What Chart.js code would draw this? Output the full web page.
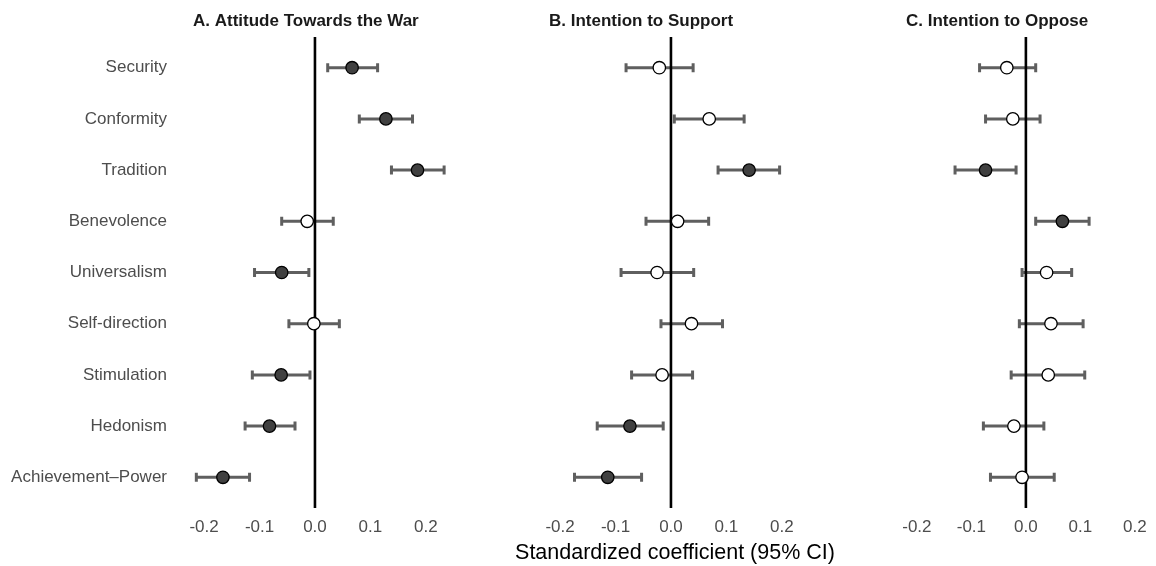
<!DOCTYPE html>
<html>
<head>
<meta charset="utf-8">
<script src="https://cdn.jsdelivr.net/npm/chart.js@4.4.1/dist/chart.umd.min.js"></script>
<style>
html,body{margin:0;padding:0;background:#fff;overflow:hidden;width:1156px;height:566px;position:relative;}
canvas{position:absolute;top:0;}
</style>
</head>
<body>
<canvas id="cA"></canvas>
<canvas id="cB"></canvas>
<canvas id="cC"></canvas>
<script>
// ---------- DATA ----------
const categories = ["Security","Conformity","Tradition","Benevolence","Universalism","Self-direction","Stimulation","Hedonism","Achievement\u2013Power"];
const tickValues = [-0.2,-0.1,0,0.1,0.2];
const tickLabels = ["-0.2","-0.1","0.0","0.1","0.2"];
const panelTitles = ["A. Attitude Towards the War","B. Intention to Support","C. Intention to Oppose"];
const axisTitle = "Standardized coefficient (95% CI)";

const attitudeEst  = [0.067, 0.128, 0.185, -0.014, -0.060, -0.002, -0.061, -0.082, -0.166];
const attitudeLow  = [0.023, 0.080, 0.138, -0.060, -0.109, -0.047, -0.113, -0.126, -0.214];
const attitudeHigh = [0.113, 0.176, 0.233, 0.033, -0.011, 0.044, -0.009, -0.036, -0.118];
const attitudeSig  = [1,1,1,0,1,0,1,1,1];

const supportEst  = [-0.021, 0.069, 0.141, 0.012, -0.025, 0.037, -0.016, -0.074, -0.114];
const supportLow  = [-0.081, 0.006, 0.085, -0.045, -0.090, -0.018, -0.071, -0.133, -0.174];
const supportHigh = [0.040, 0.132, 0.196, 0.068, 0.041, 0.093, 0.039, -0.014, -0.053];
const supportSig  = [0,0,1,0,0,0,0,1,1];

const opposeEst  = [-0.035, -0.024, -0.074, 0.067, 0.038, 0.046, 0.041, -0.022, -0.007];
const opposeLow  = [-0.085, -0.074, -0.130, 0.018, -0.007, -0.012, -0.027, -0.078, -0.065];
const opposeHigh = [0.018, 0.026, -0.018, 0.116, 0.084, 0.105, 0.108, 0.033, 0.052];
const opposeSig  = [0,0,1,1,0,0,0,0,0];

// ---------- STYLE / LAYOUT ----------
const FONT = "'Liberation Sans', Arial, Helvetica, sans-serif";
const PX_PER_UNIT = 555;
const X_MIN = -0.22;
const FILL_SIG = '#404040', FILL_NS = '#ffffff';

function makeErrorBars(low, high){
  return {
    id: 'errorBars',
    beforeDatasetsDraw(chart){
      const {ctx, chartArea} = chart;
      const x = chart.scales.x, y = chart.scales.y;
      ctx.save();
      ctx.strokeStyle = '#5f5f5f';
      ctx.lineWidth = 3;
      ctx.lineCap = 'butt';
      low.forEach((lo, i) => {
        const yy = y.getPixelForValue(i + 1);
        const x1 = x.getPixelForValue(lo), x2 = x.getPixelForValue(high[i]);
        ctx.beginPath();
        ctx.moveTo(x1, yy); ctx.lineTo(x2, yy);
        ctx.moveTo(x1, yy - 4.5); ctx.lineTo(x1, yy + 4.5);
        ctx.moveTo(x2, yy - 4.5); ctx.lineTo(x2, yy + 4.5);
        ctx.stroke();
      });
      const x0 = x.getPixelForValue(0);
      ctx.strokeStyle = '#000';
      ctx.lineWidth = 2.6;
      ctx.beginPath();
      ctx.moveTo(x0, chartArea.top); ctx.lineTo(x0, chartArea.bottom);
      ctx.stroke();
      ctx.restore();
    }
  };
}

// shared x-axis title, centred under the middle panel (drawn without width compression)
const xTitlePlugin = {
  id: 'xTitle',
  afterDraw(chart){
    const {ctx, chartArea} = chart;
    ctx.save();
    ctx.font = `21.5px ${FONT}`;
    ctx.fillStyle = '#000';
    ctx.textAlign = 'center';
    ctx.textBaseline = 'middle';
    ctx.fillText(axisTitle, (chartArea.left + chartArea.right) / 2 - 1.5, 553);
    ctx.restore();
  }
};

function makePanel(id, cfg){
  const cv = document.getElementById(id);
  const plotW = (cfg.xMax - X_MIN) * PX_PER_UNIT;
  const width = cfg.yAxisW + cfg.padL + plotW + cfg.padR;
  cv.width = Math.round(width);
  cv.height = 566;
  cv.style.left = cfg.left + 'px';
  const plugins = [makeErrorBars(cfg.low, cfg.high)];
  if (cfg.showXTitle) plugins.push(xTitlePlugin);
  return new Chart(cv, {
    type: 'scatter',
    data: {
      datasets: [{
        data: cfg.est.map((v, i) => ({x: v, y: i + 1})),
        backgroundColor: cfg.sig.map(s => s ? FILL_SIG : FILL_NS),
        borderColor: '#000',
        borderWidth: 1.3,
        pointRadius: 6.2,
        pointHoverRadius: 6.2,
        clip: false
      }]
    },
    plugins,
    options: {
      responsive: false,
      animation: false,
      events: [],
      layout: {padding: {left: cfg.padL, right: cfg.padR, top: 0, bottom: 0}},
      plugins: {
        legend: {display: false},
        tooltip: {enabled: false},
        title: {
          display: true,
          text: cfg.title,
          align: 'start',
          fullSize: false,
          color: '#1a1a1a',
          font: {family: FONT, size: 17, weight: 'bold'},
          padding: {top: 11, bottom: 5.6}
        }
      },
      scales: {
        x: {
          type: 'linear',
          min: X_MIN,
          max: cfg.xMax,
          grid: {display: false, drawTicks: false},
          border: {display: false},
          afterBuildTicks: ax => { ax.ticks = tickValues.map(v => ({value: v})); },
          afterFit: ax => { ax.height = 58; ax.paddingLeft = 0; ax.paddingRight = 0; },
          ticks: {
            autoSkip: false, maxRotation: 0,
            color: '#4d4d4d',
            font: {family: FONT, size: 17},
            padding: 9.5,
            callback: v => { const i = tickValues.indexOf(v); return i >= 0 ? tickLabels[i] : ''; }
          }
        },
        y: {
          type: 'linear',
          reverse: true,
          min: 0.4,
          max: 9.6,
          display: cfg.showY,
          grid: {display: false, drawTicks: false},
          border: {display: false},
          afterBuildTicks: ax => { ax.ticks = categories.map((c, i) => ({value: i + 1})); },
          afterFit: ax => { ax.width = cfg.yAxisW; },
          ticks: {
            autoSkip: false,
            color: '#4d4d4d',
            font: {family: FONT, size: 17},
            padding: 26,
            callback: v => categories[v - 1]
          }
        }
      }
    }
  });
}

makePanel('cA', {left: 0, yAxisW: 193, padL: 0, padR: 8, xMax: 0.24, showY: true, showXTitle: false,
  title: panelTitles[0], est: attitudeEst, low: attitudeLow, high: attitudeHigh, sig: attitudeSig});
makePanel('cB', {left: 509, yAxisW: 0, padL: 40, padR: 40, xMax: 0.24, showY: false, showXTitle: true,
  title: panelTitles[1], est: supportEst, low: supportLow, high: supportHigh, sig: supportSig});
makePanel('cC', {left: 891, yAxisW: 0, padL: 15, padR: 3, xMax: 0.225, showY: false, showXTitle: false,
  title: panelTitles[2], est: opposeEst, low: opposeLow, high: opposeHigh, sig: opposeSig});
</script>
</body>
</html>
